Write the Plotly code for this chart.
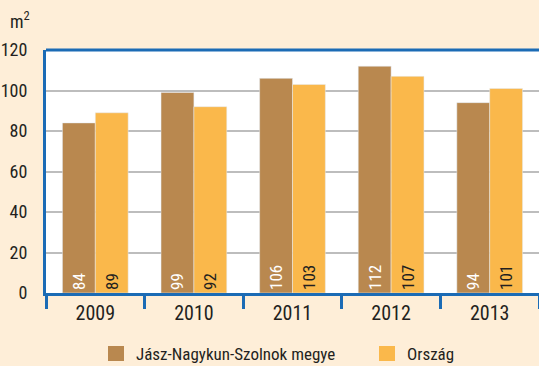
import plotly.graph_objects as go

years = ["2009", "2010", "2011", "2012", "2013"]
county = [84, 99, 106, 112, 94]
country = [89, 92, 103, 107, 101]
county_name = "Jász-Nagykun-Szolnok megye"
country_name = "Ország"

W, H = 539, 366
ML, MR, MT, MB = 46, 0, 50, 73
PW, PH = W - ML - MR, H - MT - MB
FONT = "Liberation Sans Narrow, Arial Narrow, Roboto Condensed, sans-serif"
BLUE = "#1B6BB5"
BROWN = "#B9884F"
ORANGE = "#FAB84B"
INK = "#231F20"


def px_x(x):
    return (x - ML) / PW


def px_y(y):
    return (H - MB - y) / PH


fig = go.Figure()
fig.add_bar(
    x=years, y=county, name=county_name, marker_color=BROWN,
    text=[str(v) for v in county], textposition="inside",
    insidetextanchor="start", textangle=-90,
    textfont=dict(color="white", size=17, family=FONT),
)
fig.add_bar(
    x=years, y=country, name=country_name, marker_color=ORANGE,
    text=[str(v) for v in country], textposition="inside",
    insidetextanchor="start", textangle=-90,
    textfont=dict(color=INK, size=17, family=FONT),
)

fig.update_layout(
    width=W, height=H,
    margin=dict(l=ML, r=MR, t=MT, b=MB, autoexpand=False),
    paper_bgcolor="#FEEED8",
    plot_bgcolor="white",
    barmode="group",
    bargap=1/3,
    bargroupgap=0,
    font=dict(family=FONT, color=INK),
    uniformtext=dict(minsize=10, mode="show"),
    showlegend=False,
    xaxis=dict(
        showline=True, linecolor=BLUE, linewidth=3,
        ticks="outside", tickson="boundaries", ticklen=13,
        tickcolor=BLUE, tickwidth=3,
        tickfont=dict(size=20, family=FONT, color=INK),
        showgrid=False,
    ),
    yaxis=dict(
        range=[0, 120], dtick=20,
        showline=True, linecolor=BLUE, linewidth=3,
        gridcolor="#BDBDBD", gridwidth=1.5,
        tickfont=dict(size=18, family=FONT, color=INK),
        ticks="", ticklabelstandoff=12,
        zeroline=False,
    ),
)

# blue frame line along the top of the plotting area
fig.add_shape(type="line", xref="paper", yref="paper", x0=0, x1=1, y0=1, y1=1,
              line=dict(color=BLUE, width=3))

# legend: colour squares with their series names
for sq_x, colour, label in [(108, BROWN, county_name), (379, ORANGE, country_name)]:
    fig.add_shape(type="rect", xref="paper", yref="paper",
                  x0=px_x(sq_x), x1=px_x(sq_x + 16),
                  y0=px_y(361), y1=px_y(346),
                  fillcolor=colour, line=dict(width=0))
    fig.add_annotation(
        text=label, xref="paper", yref="paper",
        x=px_x(sq_x + 26), y=px_y(353.5),
        xanchor="left", yanchor="middle", showarrow=False,
        font=dict(size=17, family=FONT, color=INK),
    )

# unit label
fig.add_annotation(
    text="m<sup>2</sup>", xref="paper", yref="paper",
    x=px_x(8), y=px_y(20),
    xanchor="left", yanchor="middle", showarrow=False,
    font=dict(size=18, family=FONT, color=INK),
)

fig.write_html("out.html")
